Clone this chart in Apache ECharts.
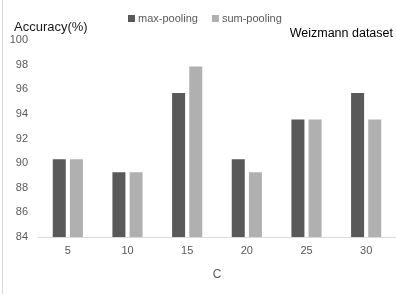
<!DOCTYPE html>
<html><head><meta charset="utf-8">
<script src="https://cdn.jsdelivr.net/npm/echarts@6/dist/echarts.min.js"></script>
<style>html,body{margin:0;padding:0;background:#fff}#c{width:396px;height:294px}</style>
</head><body><div id="c"></div>
<script>
var categories = ['5','10','15','20','25','30'];
var maxPooling = [90.32, 89.25, 95.70, 90.32, 93.55, 95.70];
var sumPooling = [90.32, 89.25, 97.85, 89.25, 93.55, 93.55];
var yTicks = [84, 100, 2];
var F = 'Liberation Sans, Arial, sans-serif';
var chart = echarts.init(document.getElementById('c'));
chart.setOption({
  animation: false,
  backgroundColor: '#fff',
  textStyle: {fontFamily: F},
  graphic: [
    {type:'line', shape:{x1:2.5,y1:0,x2:2.5,y2:294}, style:{stroke:'#d9d9d9', lineWidth:1}},
    {type:'text', left:14, top:21, style:{text:'Accuracy(%)', fontSize:13, fill:'#1a1a1a', fontFamily:F}},
    {type:'text', right:3, top:27, style:{text:'Weizmann dataset', fontSize:12.5, fill:'#000', fontFamily:F}}
  ],
  legend: {
    left: 123, top: 8, itemWidth: 7, itemHeight: 7, itemGap: 14,
    icon: 'rect',
    textStyle: {fontSize: 11, color: '#595959', fontFamily: F, padding:[0,0,0,-2]},
    data: ['max-pooling', 'sum-pooling']
  },
  grid: {left: 38, right: 0, top: 40, bottom: 57},
  xAxis: {
    type: 'category', data: categories,
    name: 'C', nameLocation: 'middle', nameGap: 32,
    nameTextStyle: {fontSize: 12, color: '#595959'},
    axisLine: {lineStyle: {color: '#d9d9d9'}},
    axisTick: {show: false},
    axisLabel: {fontSize: 11, color: '#595959', margin: 8}
  },
  yAxis: {
    type: 'value', min: yTicks[0], max: yTicks[1], interval: yTicks[2],
    axisLine: {show: false}, axisTick: {show: false},
    splitLine: {show: false},
    axisLabel: {fontSize: 11, color: '#595959', margin: 10}
  },
  series: [
    {name: 'max-pooling', type: 'bar', data: maxPooling, barWidth: 13, barGap: '32%', itemStyle: {color: '#595959'}},
    {name: 'sum-pooling', type: 'bar', data: sumPooling, barWidth: 13, itemStyle: {color: '#b0b0b0'}}
  ]
});
</script></body></html>
